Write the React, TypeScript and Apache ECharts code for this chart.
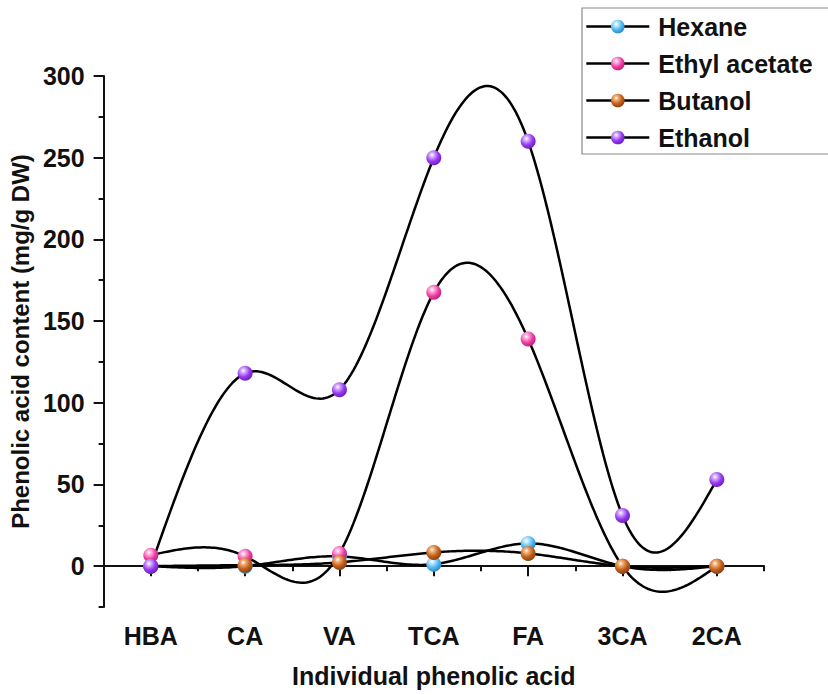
import React, { useEffect, useRef } from "react";
import * as echarts from "echarts";

const categories = ["HBA", "CA", "VA", "TCA", "FA", "3CA", "2CA"];
const seriesNames = ["Hexane", "Ethyl acetate", "Butanol", "Ethanol"];
const hexane = [0, 0, 6, 1.2, 13.9, 0, 0];
const ethylAcetate = [6.7, 6, 7.8, 167.6, 139, 0, 0];
const butanol = [0, 0.6, 2.3, 8.4, 7.8, 0, 0];
const ethanol = [0, 118, 108, 250, 260, 31, 53];
const yMajorTicks = [0, 50, 100, 150, 200, 250, 300];

const baseColors = ["#4fb6ee", "#ee3ea4", "#c2601a", "#9638ee"];
const lightColors = ["#bfe8ff", "#ffb3de", "#f3b27a", "#d7b0ff"];
const darkColors = ["#2a86c0", "#b81d78", "#8a3e0a", "#6a1cc0"];

const FONT = "'Liberation Sans', Arial, Helvetica, sans-serif";

// natural cubic spline second derivatives (unit spacing)
function splineM(y: number[]): number[] {
  const n = y.length;
  const M = new Array(n).fill(0);
  if (n < 3) return M;
  const m = n - 2;
  const c: number[] = new Array(m).fill(0);
  const d: number[] = new Array(m).fill(0);
  for (let k = 0; k < m; k++) {
    const i = k + 1;
    const rhs = 6 * (y[i + 1] - 2 * y[i] + y[i - 1]);
    if (k === 0) {
      c[k] = 1 / 4;
      d[k] = rhs / 4;
    } else {
      const den = 4 - c[k - 1];
      c[k] = 1 / den;
      d[k] = (rhs - d[k - 1]) / den;
    }
  }
  const sol: number[] = new Array(m).fill(0);
  for (let k = m - 1; k >= 0; k--) {
    sol[k] = d[k] - (k < m - 1 ? c[k] * sol[k + 1] : 0);
  }
  for (let k = 0; k < m; k++) M[k + 1] = sol[k];
  return M;
}

function makeCurveSeries(name: string, values: number[]) {
  const M = splineM(values);
  return {
    type: "custom",
    name: name + " curve",
    silent: true,
    z: 1,
    xAxisIndex: 0,
    yAxisIndex: 0,
    data: [[0, 0]],
    renderItem: (params: any, api: any) => {
      const pts: number[][] = [];
      const steps = 40;
      for (let i = 0; i < values.length - 1; i++) {
        const x0 = api.coord([i, 0])[0];
        const x1 = api.coord([i + 1, 0])[0];
        for (let s = 0; s <= steps; s++) {
          if (i > 0 && s === 0) continue;
          const t = s / steps;
          const a = 1 - t;
          const v =
            a * values[i] +
            t * values[i + 1] +
            ((a * a * a - a) * M[i] + (t * t * t - t) * M[i + 1]) / 6;
          pts.push([x0 + (x1 - x0) * t, api.coord([0, v])[1]]);
        }
      }
      return {
        type: "polyline",
        shape: { points: pts },
        style: { stroke: "#000", lineWidth: 2.5, fill: "none" },
      };
    },
  };
}

function ballColor(i: number) {
  return {
    type: "radial",
    x: 0.38,
    y: 0.32,
    r: 0.72,
    colorStops: [
      { offset: 0, color: "#ffffff" },
      { offset: 0.2, color: lightColors[i] },
      { offset: 0.6, color: baseColors[i] },
      { offset: 1, color: darkColors[i] },
    ],
  };
}

export default function App() {
  const ref = useRef<HTMLDivElement>(null);
  useEffect(() => {
    if (!ref.current) return;
    const chart = echarts.init(ref.current, undefined, { renderer: "svg" });
    const allValues = [hexane, ethylAcetate, butanol, ethanol];
    const markerSeries = allValues.map((vals, i) => ({
      type: "line",
      name: seriesNames[i],
      data: vals,
      xAxisIndex: 0,
      yAxisIndex: 0,
      z: 3 + i,
      symbol: "circle",
      symbolSize: 15,
      showSymbol: true,
      lineStyle: { opacity: 0, width: 0 },
      itemStyle: { color: ballColor(i), borderWidth: 0 },
      emphasis: { disabled: true },
    }));
    const curveSeries = allValues.map((vals, i) => makeCurveSeries(seriesNames[i], vals));

    const option: any = {
      animation: false,
      backgroundColor: "#ffffff",
      textStyle: { fontFamily: FONT },
      legend: {
        data: seriesNames,
        orient: "vertical",
        left: 582,
        top: 8,
        itemWidth: 63,
        itemHeight: 17,
        itemGap: 12,
        padding: [6, 40, 4, 3],
        borderColor: "#8a8a8a",
        borderWidth: 1.2,
        lineStyle: { color: "#000", width: 2.6, opacity: 1 },
        textStyle: {
          fontFamily: FONT,
          fontWeight: "bold",
          fontSize: 25,
          color: "#111",
          padding: [0, 0, 0, 4],
          lineHeight: 24.5,
        },
        selectedMode: false,
      },
      grid: { left: 103, right: 64, top: 76, bottom: 88, containLabel: false },
      xAxis: [
        {
          type: "category",
          data: categories,
          position: "bottom",
          boundaryGap: true,
          axisLine: { show: true, lineStyle: { color: "#111", width: 2 } },
          axisTick: { show: true, alignWithLabel: true, length: 10, lineStyle: { color: "#111", width: 2 } },
          axisLabel: {
            color: "#111",
            fontFamily: FONT,
            fontWeight: "bold",
            fontSize: 25,
            margin: 16,
          },
          name: "Individual phenolic acid",
          nameLocation: "middle",
          nameGap: 56,
          nameTextStyle: { color: "#111", fontFamily: FONT, fontWeight: "bold", fontSize: 25 },
          splitLine: { show: false },
        },
        {
          type: "category",
          data: categories,
          position: "bottom",
          boundaryGap: true,
          axisLine: { show: false },
          axisTick: { show: true, alignWithLabel: false, length: 5, lineStyle: { color: "#111", width: 2 } },
          axisLabel: { show: false },
          splitLine: { show: false },
        },
      ],
      yAxis: [
        {
          type: "value",
          min: -25,
          max: 300,
          interval: 25,
          position: "left",
          axisLine: { show: true, lineStyle: { color: "#111", width: 2 } },
          axisTick: { show: true, length: 10, customValues: yMajorTicks, lineStyle: { color: "#111", width: 2 } },
          axisLabel: {
            customValues: yMajorTicks,
            color: "#111",
            fontFamily: FONT,
            fontWeight: "bold",
            fontSize: 25,
            margin: 19,
          },
          splitLine: { show: false },
          name: "Phenolic acid content (mg/g DW)",
          nameLocation: "middle",
          nameGap: 68,
          nameRotate: 90,
          nameTextStyle: { color: "#111", fontFamily: FONT, fontWeight: "bold", fontSize: 24 },
        },
        {
          type: "value",
          min: -25,
          max: 300,
          interval: 25,
          position: "left",
          axisLine: { show: false },
          axisTick: { show: true, length: 5, lineStyle: { color: "#111", width: 2 } },
          axisLabel: { show: false },
          splitLine: { show: false },
        },
      ],
      series: [...curveSeries, ...markerSeries],
    };
    chart.setOption(option);
    return () => chart.dispose();
  }, []);
  return <div ref={ref} style={{ width: 828, height: 695, position: "absolute", left: 0, top: 0 }} />;
}
